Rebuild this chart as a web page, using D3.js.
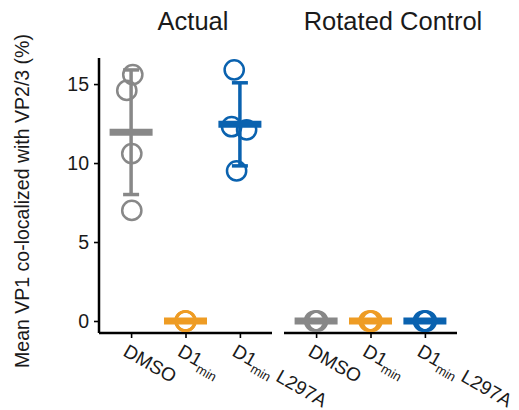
<!DOCTYPE html>
<html>
<head>
<meta charset="utf-8">
<script src="https://cdn.jsdelivr.net/npm/d3@7"></script>
<style>
  html, body { margin: 0; padding: 0; background: #fff; }
  text { font-family: "Liberation Sans", Arial, sans-serif; fill: #1a1a1a; }
</style>
</head>
<body>
<svg id="chart" width="519" height="410"></svg>
<script>
// Conditions and panels
const panels = ["Actual", "Rotated Control"];
const groups = ["DMSO", "D1min", "D1min L297A"];
const groupColors = ["#888888", "#EE9C24", "#0A62AF"];
const yTicks = [0, 5, 10, 15];

// Per-replicate % of VP1 co-localized with VP2/3
const actualDMSO = [15.6, 14.6, 10.6, 7.0];
const actualD1min = [0, 0, 0, 0];
const actualL297A = [15.9, 12.3, 12.1, 9.5];
const rotatedDMSO = [0, 0, 0, 0];
const rotatedD1min = [0, 0, 0, 0];
const rotatedL297A = [0, 0, 0, 0];

const panelData = [
  [actualDMSO, actualD1min, actualL297A],
  [rotatedDMSO, rotatedD1min, rotatedL297A]
];

// small horizontal offsets so overlapping replicates stay visible
const jitter = [
  [[1.7, -4.3, 0.7, 0.7], [0, 0.5, -0.5, 0], [-5.7, -8.3, 6.7, -3.3]],
  [[-1.5, 1.5, 0, 0.5], [-1.5, 1.5, 0, 0.5], [-1.5, 1.5, 0, 0.5]]
];

const svg = d3.select("#chart");

const y = d3.scaleLinear().domain([-0.76, 16.65]).range([333, 58]);
const panelRanges = [[99, 272], [284, 457]];
const titleX = [193, 393];

// y axis (left panel only)
const yAxis = svg.append("g")
  .attr("transform", "translate(99,0)")
  .call(d3.axisLeft(y).tickValues(yTicks).tickSize(5).tickPadding(5).tickFormat(d3.format("d")));
yAxis.select(".domain").attr("stroke", "#000").attr("stroke-width", 2.5)
  .attr("d", `M0,${y.range()[1]}V${y.range()[0]}`);
yAxis.selectAll(".tick line").attr("stroke", "#000").attr("stroke-width", 1.6);
yAxis.selectAll(".tick text").style("font-size", "19.5px").attr("fill", "#1a1a1a");

svg.append("text")
  .attr("transform", "translate(29,201) rotate(-90)")
  .attr("text-anchor", "middle")
  .style("font-size", "19.5px")
  .text("Mean VP1 co-localized with VP2/3 (%)");

panels.forEach((panel, pi) => {
  const x = d3.scalePoint().domain(groups).range(panelRanges[pi]).padding(0.59);
  const g = svg.append("g");

  // x axis line and ticks
  const xAxis = g.append("g")
    .attr("transform", "translate(0,333)")
    .call(d3.axisBottom(x).tickSize(5).tickFormat(""));
  xAxis.select(".domain").attr("stroke", "#000").attr("stroke-width", 2.5)
    .attr("d", `M${panelRanges[pi][0]},0H${panelRanges[pi][1]}`);
  xAxis.selectAll(".tick line").attr("stroke", "#000").attr("stroke-width", 1.6);

  // rotated category labels with subscripted "min"
  groups.forEach(grp => {
    const t = g.append("text")
      .attr("transform", `translate(${x(grp) - 9},355) rotate(30)`)
      .attr("text-anchor", "start")
      .style("font-size", "19px");
    if (grp === "DMSO") {
      t.text("DMSO");
    } else {
      t.append("tspan").text("D1");
      t.append("tspan").attr("dy", 5).style("font-size", "13px").text("min");
      if (grp.includes("L297A")) {
        t.append("tspan").attr("dy", -5).text("\u00a0L297A");
      }
    }
  });

  // panel title
  svg.append("text")
    .attr("x", titleX[pi]).attr("y", 30)
    .attr("text-anchor", "middle")
    .style("font-size", "25.5px")
    .text(panel);

  // mean ± SD with replicate points
  groups.forEach((grp, gi) => {
    const vals = panelData[pi][gi];
    const col = groupColors[gi];
    const cx = x(grp);
    const m = d3.mean(vals);
    const sd = d3.deviation(vals) || 0;

    if (sd > 0) {
      g.append("line")
        .attr("x1", cx).attr("x2", cx)
        .attr("y1", y(m - sd)).attr("y2", y(m + sd))
        .attr("stroke", col).attr("stroke-width", 3.5);
      [m - sd, m + sd].forEach(v => {
        g.append("line")
          .attr("x1", cx - 8).attr("x2", cx + 8)
          .attr("y1", y(v)).attr("y2", y(v))
          .attr("stroke", col).attr("stroke-width", 3.5);
      });
    }

    g.selectAll(null)
      .data(vals)
      .enter().append("circle")
      .attr("cx", (d, i) => cx + jitter[pi][gi][i])
      .attr("cy", d => y(d))
      .attr("r", 9.6)
      .attr("fill", "none")
      .attr("stroke", col)
      .attr("stroke-width", 2.5);

    g.append("line")
      .attr("x1", cx - 21.5).attr("x2", cx + 21.5)
      .attr("y1", y(m)).attr("y2", y(m))
      .attr("stroke", col).attr("stroke-width", 7);
  });
});
</script>
</body>
</html>
